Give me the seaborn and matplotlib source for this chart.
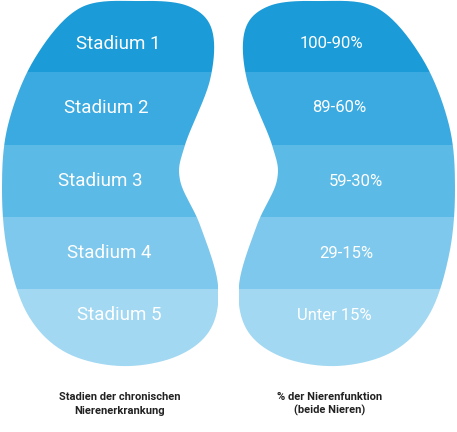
import numpy as np
import seaborn as sns
import matplotlib.pyplot as plt
from matplotlib.path import Path
from matplotlib.patches import PathPatch

sns.set_theme(style="white")
plt.rcParams['font.family'] = ['Roboto', 'DejaVu Sans']

stages = ["Stadium 1", "Stadium 2", "Stadium 3", "Stadium 4", "Stadium 5"]
functions = ["100-90%", "89-60%", "59-30%", "29-15%", "Unter 15%"]
colors = ["#1b9bd7", "#3aaae0", "#5cbae6", "#7dc8ec", "#a2d8f2"]
band_edges = [0, 72, 145, 217, 289, 370]
left_label_x = [118, 106, 100, 109, 119]
right_label_x = [331, 339, 356, 346, 334]
label_y = [44, 108, 181, 253, 315]


def smooth_closed(pts, n=20):
    pts = np.asarray(pts, float)
    out = []
    m = len(pts)
    for i in range(m):
        p0, p1, p2, p3 = pts[i - 1], pts[i], pts[(i + 1) % m], pts[(i + 2) % m]
        for t in np.linspace(0, 1, n, endpoint=False):
            t2, t3 = t * t, t * t * t
            out.append(0.5 * ((2 * p1) + (-p0 + p2) * t + (2 * p0 - 5 * p1 + 4 * p2 - p3) * t2
                              + (-p0 + 3 * p1 - 3 * p2 + p3) * t3))
    out.append(out[0])
    return np.array(out)


kidney = [(80, 8), (140, 1), (188, 6), (212, 30), (210, 80), (185, 145),
          (180, 180), (200, 225), (218, 285), (210, 330), (175, 357), (120, 366),
          (65, 352), (28, 315), (8, 255), (2, 190), (8, 125), (35, 58)]
left_pts = smooth_closed(kidney)
right_pts = left_pts.copy()
right_pts[:, 0] = 457 - right_pts[:, 0]

fig = plt.figure(figsize=(4.57, 4.32), dpi=100)
ax = fig.add_axes([0, 0, 1, 1])
ax.set_xlim(0, 457)
ax.set_ylim(432, 0)
ax.axis("off")

for pts in (left_pts, right_pts):
    clip = PathPatch(Path(pts), facecolor="none", edgecolor="none")
    ax.add_patch(clip)
    x0 = pts[:, 0].min()
    w = pts[:, 0].max() - x0
    for i, c in enumerate(colors):
        bars = ax.barh(band_edges[i], w, left=x0, height=band_edges[i + 1] - band_edges[i],
                       align="edge", color=c, edgecolor="none")
        for b in bars:
            b.set_clip_path(clip)

for i in range(5):
    ax.text(left_label_x[i], label_y[i], stages[i], color="white", fontsize=13.5,
            ha="center", va="center")
    ax.text(right_label_x[i], label_y[i], functions[i], color="white", fontsize=12,
            ha="center", va="center")

ax.text(120, 404, "Stadien der chronischen\nNierenerkrankung", fontsize=8,
        fontweight="bold", color="#222222", ha="center", va="center", linespacing=1.4)
ax.text(330, 404, "% der Nierenfunktion\n(beide Nieren)", fontsize=8,
        fontweight="bold", color="#222222", ha="center", va="center", linespacing=1.4)

fig.savefig("out.png", dpi=100)
